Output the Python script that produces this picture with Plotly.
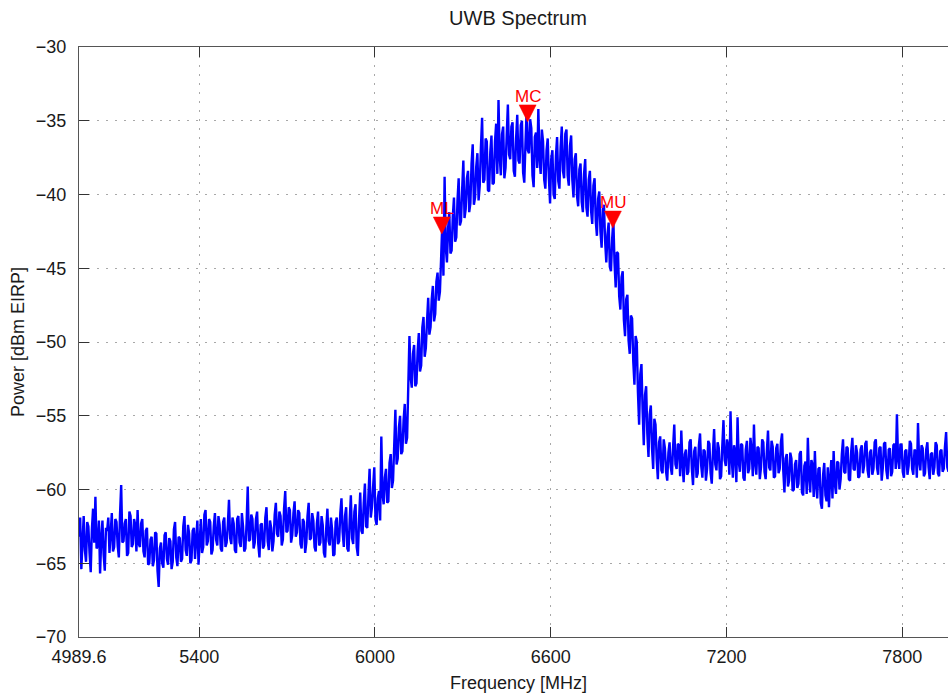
import numpy as np
import plotly.graph_objects as go

# Spectrum analyzer sweep: uniform frequency bins starting at 4989.6 MHz
FREQ_START_MHZ = 4989.6
FREQ_STEP_MHZ = 4.0

# Measured power per bin [dBm EIRP], 50 bins (200 MHz) per row
power_dbm = [
    # 4989.6 - 5185.6 MHz
    -63.2, -61.9, -65.4, -63.0, -61.8, -64.1, -64.9, -62.2, -62.5, -64.3,
    -65.6, -62.7, -61.3, -63.6, -60.5, -64.0, -63.8, -62.1, -65.7, -63.3,
    -62.1, -64.4, -65.5, -62.6, -62.8, -61.9, -64.3, -63.0, -61.6, -64.2,
    -63.9, -62.0, -62.2, -63.8, -64.6, -61.7, -59.7, -63.6, -63.5, -62.3,
    -62.0, -64.5, -64.3, -61.5, -61.8, -63.9, -63.7, -62.0, -62.4, -64.2,
    # 5189.6 - 5385.6 MHz
    -61.4, -63.7, -63.9, -62.3, -62.0, -64.2, -64.6, -62.8, -62.6, -65.1,
    -65.0, -63.4, -63.2, -65.2, -64.8, -62.9, -63.0, -65.5, -66.6, -64.0,
    -63.6, -65.0, -65.3, -63.1, -62.9, -64.7, -65.1, -63.3, -63.5, -65.4,
    -64.9, -62.7, -62.2, -64.6, -65.2, -63.2, -63.3, -64.9, -64.7, -62.5,
    -61.8, -64.1, -64.5, -62.4, -63.0, -65.0, -64.8, -62.8, -62.6, -64.7,
    # 5389.6 - 5585.6 MHz
    -63.6, -62.1, -65.1, -63.0, -62.0, -64.3, -63.9, -61.7, -61.4, -63.8,
    -63.5, -62.0, -62.2, -64.4, -64.1, -62.5, -61.6, -63.4, -63.8, -61.8,
    -62.4, -64.0, -64.2, -62.2, -61.9, -63.9, -63.6, -62.4, -60.7, -63.3,
    -63.7, -61.9, -62.3, -64.1, -64.3, -62.0, -61.8, -63.6, -63.9, -61.6,
    -62.5, -64.2, -64.0, -62.3, -59.8, -63.5, -63.4, -61.7, -62.0, -64.0,
    # 5589.6 - 5785.6 MHz
    -63.6, -62.0, -61.5, -63.7, -64.6, -62.4, -62.3, -64.0, -63.8, -61.9,
    -61.2, -63.5, -64.1, -62.1, -62.6, -64.2, -63.5, -61.7, -60.9, -63.0,
    -63.2, -61.5, -61.8, -63.8, -63.4, -61.3, -60.1, -62.9, -62.8, -61.2,
    -61.4, -63.6, -63.1, -61.6, -60.8, -63.2, -62.9, -61.4, -61.6, -63.7,
    -64.0, -62.0, -62.2, -64.3, -63.6, -61.8, -60.9, -63.4, -63.3, -61.6,
    # 5789.6 - 5985.6 MHz
    -62.1, -63.9, -64.2, -62.3, -61.5, -63.8, -63.6, -61.8, -62.4, -64.3,
    -64.6, -62.6, -61.3, -63.5, -63.8, -61.9, -62.7, -64.5, -64.4, -62.2,
    -61.9, -63.7, -63.5, -61.6, -60.6, -62.9, -63.9, -61.8, -61.2, -64.0,
    -64.2, -62.1, -60.4, -63.3, -63.7, -61.5, -61.0, -63.9, -64.5, -62.0,
    -60.2, -62.8, -63.0, -60.9, -59.6, -62.5, -62.6, -60.4, -58.6, -61.9,
    # 5989.6 - 6185.6 MHz
    -61.2, -59.8, -58.5, -62.0, -62.4, -60.6, -60.1, -62.1, -56.4, -60.3,
    -61.0, -59.2, -58.6, -60.9, -60.8, -58.2, -57.6, -59.9, -59.4, -57.0,
    -54.6, -58.3, -57.9, -55.8, -55.0, -57.6, -57.4, -55.3, -54.2, -56.9,
    -56.5, -53.0, -49.6, -52.4, -53.1, -50.8, -50.2, -53.0, -52.8, -50.6,
    -49.4, -52.0, -51.6, -49.0, -48.3, -51.0, -50.4, -48.6, -47.0, -49.5,
    # 6189.6 - 6385.6 MHz
    -49.0, -47.1, -46.2, -48.6, -48.1, -45.9, -45.3, -47.2, -46.6, -44.4,
    -42.0, -45.5, -38.8, -43.6, -44.6, -42.3, -41.2, -44.0, -43.8, -41.5,
    -40.2, -43.2, -42.9, -40.4, -38.9, -42.1, -41.8, -39.6, -37.7, -41.6,
    -41.0, -38.9, -38.4, -41.2, -40.6, -37.9, -36.6, -40.7, -40.2, -38.1,
    -37.2, -40.4, -39.4, -36.8, -34.8, -39.2, -39.0, -36.2, -36.4, -39.7,
    # 6389.6 - 6585.6 MHz
    -39.8, -37.1, -36.0, -39.3, -39.2, -36.4, -35.2, -38.6, -33.6, -37.4,
    -38.7, -35.9, -35.4, -38.9, -38.2, -36.0, -33.9, -37.3, -37.6, -35.4,
    -35.1, -38.4, -38.8, -36.2, -34.6, -37.7, -37.9, -35.3, -35.0, -38.5,
    -39.2, -36.6, -34.3, -37.0, -37.2, -34.9, -35.5, -38.7, -39.5, -36.1,
    -35.8, -38.2, -34.2, -37.5, -38.6, -35.6, -36.4, -39.0, -39.6, -37.0,
    # 6589.6 - 6785.6 MHz
    -36.2, -38.9, -40.6, -37.6, -37.0, -40.0, -40.3, -37.4, -36.1, -39.1,
    -39.6, -36.8, -35.4, -38.4, -38.9, -35.9, -35.6, -38.7, -39.4, -36.7,
    -36.0, -39.0, -40.2, -37.6, -37.2, -40.1, -40.8, -38.3, -37.9, -40.5,
    -41.2, -38.6, -37.6, -40.9, -41.5, -39.0, -38.4, -41.1, -42.0, -39.4,
    -38.9, -41.8, -42.8, -40.3, -39.8, -42.5, -43.6, -41.0, -40.7, -43.2,
    # 6789.6 - 6985.6 MHz
    -44.6, -42.7, -41.9, -44.9, -45.2, -43.0, -41.7, -44.6, -46.3, -43.9,
    -44.0, -46.9, -47.8, -45.6, -45.2, -48.5, -49.6, -47.1, -46.8, -49.9,
    -50.8, -48.2, -48.4, -51.3, -52.9, -49.6, -50.0, -53.4, -55.6, -52.2,
    -51.5, -54.7, -57.0, -53.6, -53.0, -56.2, -57.8, -54.9, -54.3, -57.2,
    -58.6, -55.2, -55.6, -58.0, -59.3, -56.8, -56.4, -58.7, -58.9, -56.6,
    # 6989.6 - 7185.6 MHz
    -57.2, -58.8, -59.4, -57.5, -56.8, -58.5, -59.0, -57.1, -55.6, -58.3,
    -58.6, -56.9, -57.0, -59.1, -56.0, -58.2, -59.5, -57.6, -57.3, -59.0,
    -58.8, -56.8, -56.6, -58.6, -59.7, -57.4, -57.1, -59.2, -58.9, -57.0,
    -56.2, -58.4, -59.2, -57.3, -57.4, -59.4, -58.6, -56.7, -56.9, -58.9,
    -59.6, -57.5, -55.9, -58.3, -58.7, -56.8, -57.2, -59.3, -59.1, -57.0,
    # 7189.6 - 7385.6 MHz
    -55.3, -58.0, -58.4, -56.6, -57.1, -59.0, -54.7, -57.9, -59.2, -57.0,
    -57.4, -59.5, -55.1, -58.1, -58.8, -56.9, -57.0, -59.2, -59.4, -57.3,
    -56.7, -58.9, -58.6, -56.5, -57.3, -59.1, -55.6, -58.2, -59.0, -57.1,
    -57.2, -59.3, -58.5, -56.6, -56.8, -58.8, -59.3, -57.4, -56.0, -58.5,
    -58.7, -56.7, -57.1, -59.2, -59.1, -57.2, -56.9, -58.9, -58.6, -56.8,
    # 7389.6 - 7585.6 MHz
    -56.2, -58.7, -60.2, -57.9, -57.6, -59.8, -59.4, -57.5, -57.9, -60.1,
    -60.0, -58.3, -58.0, -59.9, -59.6, -57.6, -57.4, -60.2, -60.4, -58.4,
    -58.1, -60.3, -56.5, -59.1, -60.2, -58.0, -58.3, -60.5, -57.4, -59.7,
    -60.6, -58.6, -58.5, -60.9, -61.3, -59.0, -58.2, -60.4, -60.8, -58.5,
    -61.2, -59.3, -58.0, -60.6, -57.4, -59.6, -60.3, -58.1, -58.2, -60.0,
    # 7589.6 - 7785.6 MHz
    -59.3, -57.6, -56.6, -58.8, -58.9, -57.1, -57.2, -59.3, -59.4, -57.4,
    -56.5, -58.6, -58.7, -57.0, -57.5, -59.2, -59.1, -57.3, -57.0, -58.9,
    -58.4, -56.9, -56.7, -58.7, -59.2, -57.5, -57.3, -59.0, -58.6, -56.8,
    -56.6, -58.5, -59.0, -57.2, -57.1, -59.4, -58.5, -56.9, -56.8, -58.7,
    -59.3, -57.3, -57.2, -59.1, -58.8, -57.0, -56.9, -58.6, -54.9, -58.0,
    # 7789.6 - 7989.6 MHz
    -58.6, -56.9, -57.0, -58.8, -59.2, -57.4, -57.3, -59.0, -58.4, -56.7,
    -56.9, -58.6, -59.0, -57.3, -57.4, -59.2, -55.5, -58.1, -58.7, -57.0,
    -57.2, -59.1, -58.9, -57.3, -56.8, -58.5, -59.3, -57.6, -57.5, -59.0,
    -58.5, -56.8, -57.0, -58.9, -59.1, -57.4, -57.3, -58.8, -58.6, -57.1,
    -56.1, -58.5, -58.8, -57.2, -57.4, -59.0, -58.9, -57.3, -57.6, -58.7,
    -58.4,
]

freq_mhz = FREQ_START_MHZ + FREQ_STEP_MHZ * np.arange(len(power_dbm))

# Band markers: lower edge, centre, upper edge
marker_names = ["ML", "MC", "MU"]
marker_freq_mhz = [6228.0, 6521.0, 6812.0]
marker_power_dbm = [-42.1, -34.5, -41.7]

x_tick_vals = [4989.6, 5400, 6000, 6600, 7200, 7800]
x_tick_text = ["4989.6", "5400", "6000", "6600", "7200", "7800"]
y_tick_vals = [-70, -65, -60, -55, -50, -45, -40, -35, -30]
y_tick_text = ["\u221270", "\u221265", "\u221260", "\u221255", "\u221250",
               "\u221245", "\u221240", "\u221235", "\u221230"]

FONT = "Liberation Sans, Arial, Helvetica, sans-serif"
TEXT_COLOR = "#1a1a1a"
GRID_COLOR = "#a8a8a8"
AXIS_COLOR = "#555555"

fig = go.Figure()
fig.add_trace(go.Scatter(
    x=freq_mhz, y=power_dbm, mode="lines",
    line=dict(color="#0000ff", width=2.4),
    hoverinfo="skip", showlegend=False,
))

# Downward triangles (equal width and height) with their labels
TRI = 8.5
for name, f, p in zip(marker_names, marker_freq_mhz, marker_power_dbm):
    fig.add_shape(
        type="path", xref="x", yref="y",
        xsizemode="pixel", ysizemode="pixel", xanchor=f, yanchor=p,
        path=f"M{-TRI},{TRI} L{TRI},{TRI} L0,{-TRI} Z",
        fillcolor="#ff0000", line=dict(color="#ff0000", width=0.5),
        layer="above",
    )
    fig.add_annotation(
        x=f, y=p, xref="x", yref="y", text=name, showarrow=False,
        yshift=17, xanchor="center", yanchor="middle",
        font=dict(family=FONT, size=17, color="#ff0000"),
    )

fig.update_layout(
    width=948, height=693,
    margin=dict(l=79, r=0, t=47, b=56, pad=0),
    paper_bgcolor="white", plot_bgcolor="white",
    showlegend=False,
    font=dict(family=FONT, size=18, color=TEXT_COLOR),
    title=dict(text="UWB Spectrum", x=518 / 948, xanchor="center",
               y=1 - 18 / 693, yanchor="middle",
               font=dict(family=FONT, size=20, color=TEXT_COLOR)),
)

fig.update_xaxes(
    range=[4989.6, 7956.0], tickvals=x_tick_vals, ticktext=x_tick_text,
    ticks="inside", ticklen=10, tickwidth=1, tickcolor="#333333",
    showline=True, linecolor=AXIS_COLOR, linewidth=1.2, mirror="ticks",
    showgrid=True, gridcolor=GRID_COLOR, gridwidth=1, griddash="2px,7px",
    zeroline=False, ticklabelstandoff=3,
    tickfont=dict(family=FONT, size=18, color=TEXT_COLOR),
)
fig.update_yaxes(
    range=[-70, -30], tickvals=y_tick_vals, ticktext=y_tick_text,
    ticks="inside", ticklen=10, tickwidth=1, tickcolor="#333333",
    showline=True, linecolor=AXIS_COLOR, linewidth=1.2, mirror=False,
    showgrid=True, gridcolor=GRID_COLOR, gridwidth=1, griddash="2px,7px",
    zeroline=False, ticklabelstandoff=8,
    tickfont=dict(family=FONT, size=18, color=TEXT_COLOR),
)

# Axis titles
fig.add_annotation(
    text="Frequency [MHz]", xref="paper", yref="paper",
    x=(518 - 79) / 869, y=-46 / 590, xanchor="center", yanchor="middle",
    showarrow=False, font=dict(family=FONT, size=18, color=TEXT_COLOR),
)
fig.add_annotation(
    text="Power [dBm EIRP]", xref="paper", yref="paper",
    x=(18 - 79) / 869, y=0.5, xanchor="center", yanchor="middle",
    textangle=-90, showarrow=False,
    font=dict(family=FONT, size=18, color=TEXT_COLOR),
)

fig.write_html("out.html")
